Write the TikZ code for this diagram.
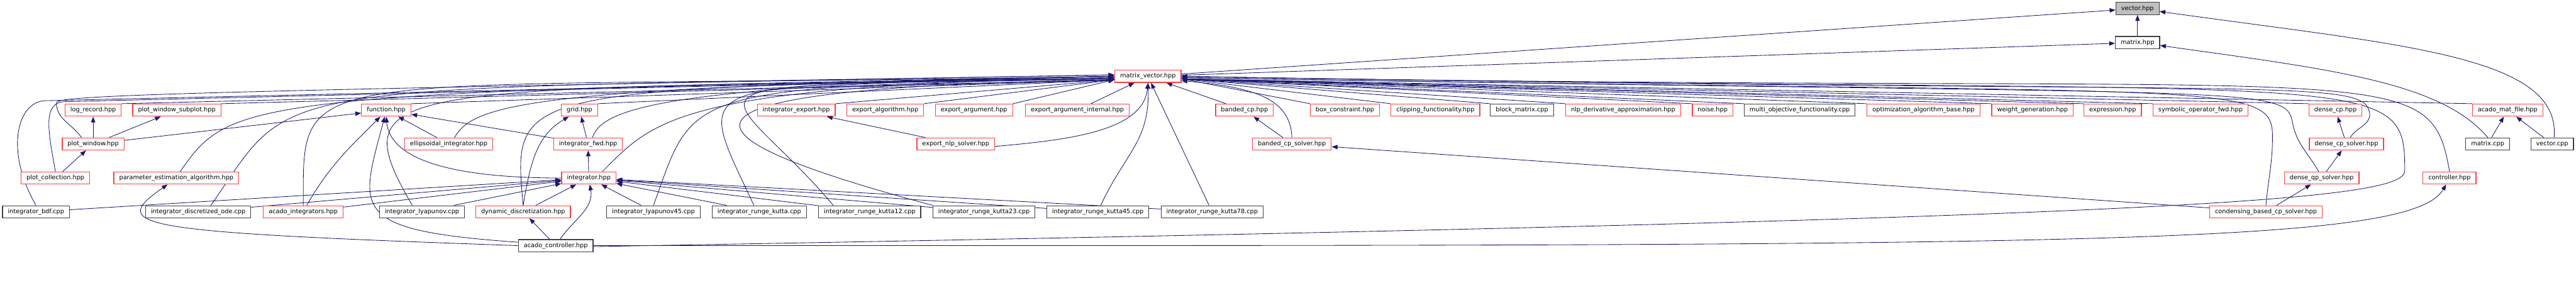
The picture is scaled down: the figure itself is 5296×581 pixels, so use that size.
\documentclass[tikz,border=0pt]{standalone}
\usepackage{fontspec}
\setmainfont{DejaVu Sans}
\usepackage{tikz}
\usetikzlibrary{arrows.meta,backgrounds}
\usepackage{xcolor}
\definecolor{depblue}{HTML}{191970}
\definecolor{hdrred}{HTML}{FF4040}
\definecolor{srcgray}{HTML}{404040}
\definecolor{rootgray}{HTML}{BFBFBF}

\begin{document}
\begin{tikzpicture}[
    x=0.2pt, y=0.2pt,
    every node/.style={font=\fontsize{2.52}{3}\selectfont, inner xsep=2.2pt, inner ysep=0pt, minimum height=5pt},
    cell/.style={rectangle, draw=srcgray, line width=0.32pt, fill=white},
    redcell/.style={rectangle, draw=hdrred, line width=0.32pt, fill=white},
    rootcell/.style={cell, fill=rootgray},
    inc/.style={-{Triangle[length=2.4pt,width=1.8pt]}, depblue, line width=0.22pt}
  ]
  \useasboundingbox (0,0) rectangle (5296,581);

  % top of the graph
  \node[rootcell] (VectorHpp) at (4394.5,563.5) {vector.hpp};
  \node[cell] (MatrixHpp) at (4394.5,493.5) {matrix.hpp};
  \node[redcell] (MatVec) at (2360,424) {matrix\_vector.hpp};

  % first row below matrix_vector.hpp
  \node[redcell] (LogRecord) at (191.5,354.5) {log\_record.hpp};
  \node[redcell] (PlotSub) at (363.5,354.5) {plot\_window\_subplot.hpp};
  \node[redcell] (Function) at (794,354.5) {function.hpp};
  \node[redcell] (Grid) at (1191.5,354.5) {grid.hpp};
  \node[redcell] (IntExport) at (1637,354.5) {integrator\_export.hpp};
  \node[redcell] (ExpAlgo) at (1820,354.5) {export\_algorithm.hpp};
  \node[redcell] (ExpArg) at (2002.5,354.5) {export\_argument.hpp};
  \node[redcell] (ExpArgInt) at (2215,354.5) {export\_argument\_internal.hpp};
  \node[redcell] (BandedCp) at (2558.5,354.5) {banded\_cp.hpp};
  \node[redcell] (BoxConstr) at (2765,354.5) {box\_constraint.hpp};
  \node[redcell] (Clipping) at (2951,354.5) {clipping\_functionality.hpp};
  \node[cell] (BlockMat) at (3129,354.5) {block\_matrix.cpp};
  \node[redcell] (NlpDeriv) at (3337,354.5) {nlp\_derivative\_approximation.hpp};
  \node[redcell] (Noise) at (3521,354.5) {noise.hpp};
  \node[cell] (MultiObj) at (3700,354.5) {multi\_objective\_functionality.cpp};
  \node[redcell] (OptAlgo) at (3954.5,354.5) {optimization\_algorithm\_base.hpp};
  \node[redcell] (WeightGen) at (4178.5,354.5) {weight\_generation.hpp};
  \node[redcell] (Expression) at (4343.5,354.5) {expression.hpp};
  \node[redcell] (SymOp) at (4524,354.5) {symbolic\_operator\_fwd.hpp};
  \node[redcell] (DenseCp) at (4801.5,354.5) {dense\_cp.hpp};
  \node[redcell] (MatFile) at (5155.5,354.5) {acado\_mat\_file.hpp};

  % second row
  \node[redcell] (PlotWin) at (191.5,285) {plot\_window.hpp};
  \node[redcell] (EllInt) at (922.5,285) {ellipsoidal\_integrator.hpp};
  \node[redcell] (IntFwd) at (1209,285) {integrator\_fwd.hpp};
  \node[redcell] (ExpNlp) at (1965,285) {export\_nlp\_solver.hpp};
  \node[redcell] (BandSolv) at (2656,285) {banded\_cp\_solver.hpp};
  \node[redcell] (DenseSolv) at (4824,285) {dense\_cp\_solver.hpp};
  \node[cell] (MatrixCpp) at (5114.5,285) {matrix.cpp};
  \node[cell] (VectorCpp) at (5247,285) {vector.cpp};

  % third row
  \node[redcell] (PlotColl) at (114,215) {plot\_collection.hpp};
  \node[redcell] (ParamEst) at (362.5,215) {parameter\_estimation\_algorithm.hpp};
  \node[redcell] (Integ) at (1210.5,215) {integrator.hpp};
  \node[redcell] (DenseQp) at (4773,215) {dense\_qp\_solver.hpp};
  \node[redcell] (Ctrl) at (5036,215) {controller.hpp};

  % fourth row
  \node[cell] (IntBdf) at (74,145.5) {integrator\_bdf.cpp};
  \node[cell] (IntDiscOde) at (407.5,145.5) {integrator\_discretized\_ode.cpp};
  \node[redcell] (AcadoInt) at (623.5,145.5) {acado\_integrators.hpp};
  \node[cell] (IntLyap) at (867.5,145.5) {integrator\_lyapunov.cpp};
  \node[redcell] (DynDisc) at (1075.5,145.5) {dynamic\_discretization.hpp};
  \node[cell] (IntLyap45) at (1343.5,145.5) {integrator\_lyapunov45.cpp};
  \node[cell] (IntRk) at (1561,145.5) {integrator\_runge\_kutta.cpp};
  \node[cell] (IntRk12) at (1788,145.5) {integrator\_runge\_kutta12.cpp};
  \node[cell] (IntRk23) at (2023,145.5) {integrator\_runge\_kutta23.cpp};
  \node[cell] (IntRk45) at (2257,145.5) {integrator\_runge\_kutta45.cpp};
  \node[cell] (IntRk78) at (2492,145.5) {integrator\_runge\_kutta78.cpp};
  \node[redcell] (CondCp) at (4658.5,145.5) {condensing\_based\_cp\_solver.hpp};

  % bottom
  \node[cell] (AcadoCtrl) at (1142.5,76) {acado\_controller.hpp};

  % bend points of the long routes
  \coordinate (bendBdf) at (95,374);
  \coordinate (bendPcoll) at (135,372);
  \coordinate (bendPw) at (116,370);
  \coordinate (bendCond) at (4672,300);
  \coordinate (bendQp) at (4713,330);
  \coordinate (bendDs) at (4872,345);
  \coordinate (bendLoop) at (4944,230);

  \begin{scope}[on background layer]
    % vector.hpp and matrix.hpp
    \draw[inc] (MatrixHpp) -- (VectorHpp);
    \draw[inc] (MatVec) -- (VectorHpp);
    \draw[inc] (MatVec) -- (MatrixHpp);
    \draw[inc] ([xshift=0.8pt]VectorCpp.north) to[out=85,in=-8,out distance=34pt,in distance=100pt] ([yshift=-1.2pt]VectorHpp.east);
    \draw[inc] (MatrixCpp.north) to[out=130,in=-8,out distance=30pt,in distance=70pt] ([yshift=-1.2pt]MatrixHpp.east);

    % straight into matrix_vector.hpp
    \foreach \src in {LogRecord,PlotSub,Function,Grid,IntExport,ExpAlgo,ExpArg}
      \draw[inc] (\src.north east) -- ([yshift=-1.4pt]MatVec.west);
    \foreach \src in {BoxConstr,Clipping,BlockMat,NlpDeriv,Noise,MultiObj,OptAlgo,WeightGen,Expression,SymOp,DenseCp,MatFile}
      \draw[inc] (\src.north west) -- ([yshift=-1pt]MatVec.east);
    \foreach \src in {ExpArgInt,BandedCp,IntRk78}
      \draw[inc] (\src) -- (MatVec);

    % bundle from the left
    \draw[inc] (IntBdf.north) to[out=120,in=180,out distance=26pt,in distance=12pt] (bendBdf) -- (MatVec.west);
    \draw[inc] (PlotColl.north) to[out=100,in=180,out distance=16pt,in distance=10pt] (bendPcoll) -- (MatVec.west);
    \draw[inc] ([xshift=-4.8pt]PlotWin.north) to[out=125,in=-90] (bendPw) to[out=90,in=181,out distance=3pt,in distance=380pt] ([yshift=0.6pt]MatVec.west);
    \draw[inc] ([xshift=1.6pt]ParamEst.north) to[out=55,in=181,out distance=36pt,in distance=360pt] (MatVec.west);
    \draw[inc] ([xshift=5.2pt]IntDiscOde.north) to[out=55,in=181,out distance=64pt,in distance=360pt] ([yshift=0.6pt]MatVec.west);
    \draw[inc] (AcadoInt.north) to[out=90,in=181,out distance=60pt,in distance=340pt] (MatVec.west);
    \draw[inc] ([xshift=-4pt]IntLyap.north) to[out=120,in=181,out distance=60pt,in distance=300pt] ([yshift=-0.6pt]MatVec.west);
    \draw[inc] ([xshift=2.4pt]EllInt.north) to[out=60,in=181,out distance=16pt,in distance=240pt] (MatVec.west);
    \draw[inc] (DynDisc.north) to[out=95,in=181,out distance=48pt,in distance=250pt] ([yshift=-0.6pt]MatVec.west);
    \draw[inc] ([xshift=1.8pt]IntFwd.north) to[out=70,in=181,out distance=12pt,in distance=190pt] (MatVec.west);
    \draw[inc] ([xshift=5.6pt]Integ.north) to[out=45,in=181,out distance=30pt,in distance=180pt] ([yshift=-0.6pt]MatVec.west);
    \draw[inc] (IntLyap45.north) to[out=70,in=181,out distance=50pt,in distance=180pt] ([yshift=-1pt]MatVec.west);
    \draw[inc] ([xshift=-2.2pt]IntRk.north) to[out=115,in=181,out distance=60pt,in distance=180pt] ([yshift=-1pt]MatVec.west);
    \draw[inc] ([xshift=-15pt]IntRk12.north) to[out=130,in=181,out distance=70pt,in distance=200pt] ([yshift=-1pt]MatVec.west);
    \draw[inc] (IntRk23.north west) to[out=165,in=181,out distance=120pt,in distance=190pt] ([yshift=-1.4pt]MatVec.west);

    % from below
    \draw[inc] ([xshift=1.2pt]IntRk45.north) to[out=65,in=-88,out distance=24pt,in distance=24pt] (MatVec.south);
    \draw[inc] ([yshift=-1pt]ExpNlp.east) to[out=5,in=-95,out distance=30pt,in distance=20pt] (MatVec.south);

    % bundle from the right
    \draw[inc] (BandSolv.north) to[out=92,in=-5,out distance=16pt,in distance=30pt] ([yshift=-1.8pt]MatVec.east);
    \draw[inc] (Ctrl.north) to[out=100,in=-1,out distance=50pt,in distance=500pt] (MatVec.east);
    \draw[inc] (CondCp.north) to[out=85,in=-90] (bendCond) to[out=90,in=-1,out distance=24pt,in distance=430pt] ([yshift=-0.5pt]MatVec.east);
    \draw[inc] ([xshift=-1.2pt]DenseQp.north) to[out=120,in=-80] (bendQp) to[out=100,in=-1,out distance=16pt,in distance=440pt] ([yshift=-0.5pt]MatVec.east);
    \draw[inc] ([xshift=1.6pt]DenseSolv.north) to[out=60,in=-95] (bendDs) to[out=95,in=-1,out distance=16pt,in distance=460pt] (MatVec.east);
    \draw[inc] ([yshift=-0.4pt]AcadoCtrl.east) to[out=1,in=-90,out distance=660pt,in distance=12pt] (bendLoop) to[out=90,in=-1,out distance=44pt,in distance=494pt] (MatVec.east);

    % the other includes
    \draw[inc] (MatrixCpp) -- (MatFile);
    \draw[inc] (VectorCpp) -- (MatFile);
    \draw[inc] (DenseSolv) -- (DenseCp);
    \draw[inc] (DenseQp) -- (DenseSolv);
    \draw[inc] (CondCp) -- (DenseQp);
    \draw[inc] (CondCp) -- (BandSolv);
    \draw[inc] (BandSolv) -- (BandedCp);
    \draw[inc] (ExpNlp) -- (IntExport);
    \draw[inc] (PlotWin) -- (LogRecord);
    \draw[inc] (PlotWin) -- (PlotSub);
    \draw[inc] (PlotWin) -- (Function);
    \draw[inc] (PlotColl) -- (PlotWin);
    \draw[inc] (EllInt) -- (Function);
    \draw[inc] (IntFwd) -- (Function);
    \draw[inc] (IntFwd) -- (Grid);
    \draw[inc] (Integ) -- (IntFwd);
    \draw[inc] (Integ.west) to[out=180,in=-85,out distance=50pt,in distance=16pt] (Function.south);
    \draw[inc] ([xshift=1.4pt]AcadoInt.north) to[out=60,in=-135] ([xshift=-2.4pt]Function.south);
    \draw[inc] (DynDisc.north) to[out=80,in=-150] ([xshift=-4.4pt]Grid.south);
    \foreach \src in {IntBdf,IntDiscOde,AcadoInt,IntLyap,DynDisc,IntLyap45,IntRk,IntRk12,IntRk23,IntRk45,IntRk78}
      \draw[inc] (\src) -- (Integ);

    % acado_controller.hpp
    \draw[inc] (AcadoCtrl) -- (DynDisc);
    \draw[inc] ([xshift=1.8pt]AcadoCtrl.north) to[out=55,in=-80] ([xshift=0.4pt]Integ.south);
    \draw[inc] ([yshift=1.4pt]AcadoCtrl.west) to[out=176,in=-105,out distance=70pt,in distance=40pt] ([xshift=-0.6pt]Function.south);
    \draw[inc] (AcadoCtrl.west) to[out=178,in=-145,out distance=160pt,in distance=30pt] ([xshift=-3.6pt]ParamEst.south);
    \draw[inc] (AcadoCtrl.east) to[out=0,in=-120,out distance=600pt,in distance=30pt] ([xshift=-1.4pt]Ctrl.south);
  \end{scope}
\end{tikzpicture}
\end{document}
